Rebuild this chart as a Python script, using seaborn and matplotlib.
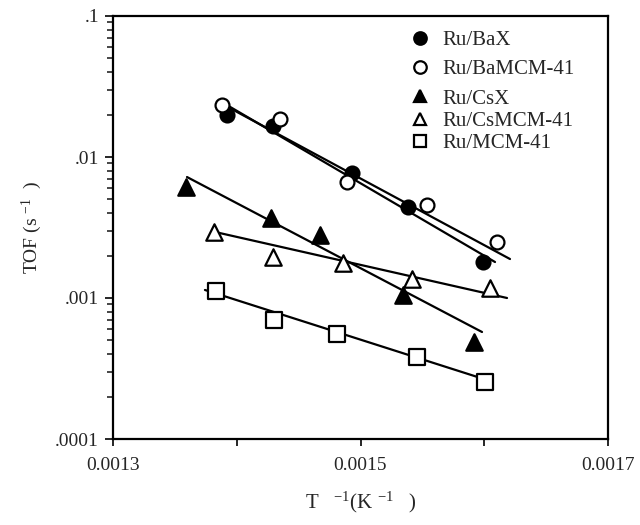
import numpy as np
import pandas as pd
import matplotlib
matplotlib.use("Agg")
import matplotlib.pyplot as plt
from matplotlib.lines import Line2D
from matplotlib.ticker import FixedLocator, NullFormatter, LogLocator
import seaborn as sns

# ---- data ----
series_names = ["Ru/BaX", "Ru/BaMCM-41", "Ru/CsX", "Ru/CsMCM-41", "Ru/MCM-41"]

bax_x = [0.0013921, 0.0014293, 0.0014931, 0.0015384, 0.0015990]
bax_y = [0.0198, 0.0166, 0.0077, 0.00442, 0.0018]

bamcm_x = [0.0013880, 0.0014350, 0.0014890, 0.0015540, 0.0016100]
bamcm_y = [0.0233, 0.0186, 0.00666, 0.0046, 0.00249]

csx_x = [0.0013590, 0.0014280, 0.0014670, 0.0015340, 0.0015920]
csx_y = [0.00613, 0.00369, 0.0028, 0.00105, 0.000488]

csmcm_x = [0.0013820, 0.0014290, 0.0014860, 0.0015420, 0.0016050]
csmcm_y = [0.00293, 0.00195, 0.00177, 0.00136, 0.00118]

mcm_x = [0.0013830, 0.0014300, 0.0014810, 0.0015460, 0.0016010]
mcm_y = [0.00112, 0.000698, 0.000556, 0.000381, 0.000253]

# Arrhenius fit lines (start / end values) as drawn in the figure
bax_fit_x = [0.0013905, 0.0016087]
bax_fit_y = [0.0238, 0.00180]
bamcm_fit_x = [0.0013881, 0.0016208]
bamcm_fit_y = [0.0238, 0.00189]
csx_fit_x = [0.0013598, 0.0015982]
csx_fit_y = [0.00721, 0.000574]
csmcm_fit_x = [0.0013824, 0.0016184]
csmcm_fit_y = [0.00294, 0.00100]
mcm_fit_x = [0.0013743, 0.0016046]
mcm_fit_y = [0.00114, 0.000258]

x_ticks = [0.0013, 0.0015, 0.0017]
x_tick_labels = ["0.0013", "0.0015", "0.0017"]
x_minor_ticks = [0.0014, 0.0016]
y_ticks = [0.0001, 0.001, 0.01, 0.1]
y_tick_labels = [".0001", ".001", ".01", ".1"]

# ---- plotting ----
sns.set_theme(style="white")
plt.rcParams["font.family"] = ["Liberation Serif", "DejaVu Serif"]
plt.rcParams["mathtext.fontset"] = "custom"
plt.rcParams["mathtext.rm"] = "Liberation Serif"
plt.rcParams["mathtext.it"] = "Liberation Serif"

fig = plt.figure(figsize=(6.4, 5.25), dpi=100)
ax = fig.add_axes([113 / 640, 1 - 439 / 525, (608 - 113) / 640, (439 - 16) / 525])

styles = [
    dict(marker="o", facecolor="black", s=100),
    dict(marker="o", facecolor="white", s=100),
    dict(marker="^", facecolor="black", s=140),
    dict(marker="^", facecolor="white", s=140),
    dict(marker="s", facecolor="white", s=125),
]
xs = [bax_x, bamcm_x, csx_x, csmcm_x, mcm_x]
ys = [bax_y, bamcm_y, csx_y, csmcm_y, mcm_y]
fxs = [bax_fit_x, bamcm_fit_x, csx_fit_x, csmcm_fit_x, mcm_fit_x]
fys = [bax_fit_y, bamcm_fit_y, csx_fit_y, csmcm_fit_y, mcm_fit_y]

for name, x, y, st, fx, fy in zip(series_names, xs, ys, styles, fxs, fys):
    sns.lineplot(x=fx, y=fy, ax=ax, color="black", linewidth=1.6, zorder=2)
    df = pd.DataFrame({"x": x, "y": y})
    sns.scatterplot(data=df, x="x", y="y", ax=ax, marker=st["marker"], s=st["s"],
                    facecolor=st["facecolor"], edgecolor="black", linewidth=1.6,
                    zorder=3)

ax.set_yscale("log")
ax.set_xlim(0.0013, 0.0017)
ax.set_ylim(0.0001, 0.1)

ax.set_xticks(x_ticks)
ax.set_xticklabels(x_tick_labels)
ax.xaxis.set_minor_locator(FixedLocator(x_minor_ticks))
ax.xaxis.set_minor_formatter(NullFormatter())
ax.set_yticks(y_ticks)
ax.set_yticklabels(y_tick_labels)
ax.yaxis.set_minor_locator(LogLocator(base=10, subs=np.arange(2, 10)))
ax.yaxis.set_minor_formatter(NullFormatter())

ax.tick_params(axis="x", which="major", direction="out", length=5, width=1.4,
               labelsize=14, pad=8, bottom=True)
ax.tick_params(axis="x", which="minor", direction="out", length=5, width=1.4, bottom=True)
ax.tick_params(axis="y", which="major", direction="out", length=6, width=1.4,
               labelsize=14, pad=4, left=True)
ax.tick_params(axis="y", which="minor", direction="out", length=4, width=1.2, left=True)

for sp in ax.spines.values():
    sp.set_visible(True)
    sp.set_color("black")
    sp.set_linewidth(1.6)

ax.set_xlabel(r"T   $^{-1}$(K $^{-1}$   )", fontsize=15, labelpad=11)
ax.set_ylabel(r"TOF (s $^{-1}$  )", fontsize=14, labelpad=8)

def handle(st):
    return Line2D([], [], linestyle="none", marker=st["marker"], markersize=9,
                  markerfacecolor=st["facecolor"], markeredgecolor="black",
                  markeredgewidth=1.6)

h = [handle(st) for st in styles]
leg1 = ax.legend(h[:2], series_names[:2], loc="upper left",
                 bbox_to_anchor=(0.578, 0.985), frameon=False, fontsize=15,
                 handletextpad=0.5, handlelength=1.2, labelspacing=0.45,
                 borderaxespad=0.0)
ax.add_artist(leg1)
ax.legend(h[2:], series_names[2:], loc="upper left",
          bbox_to_anchor=(0.578, 0.847), frameon=False, fontsize=15,
          handletextpad=0.5, handlelength=1.2, labelspacing=0.13,
          borderaxespad=0.0)

fig.savefig("out.png", dpi=100)
